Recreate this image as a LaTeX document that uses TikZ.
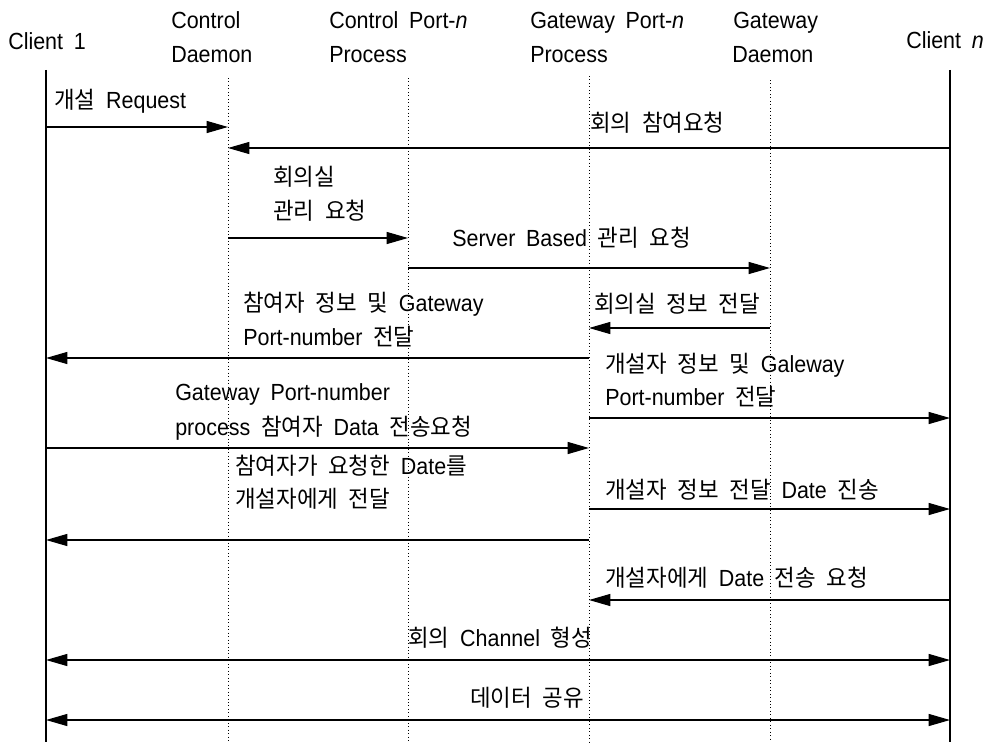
\documentclass[tikz,border=0pt]{standalone}
\usepackage{fontspec}
\setmainfont{Liberation Sans}[FakeStretch=0.92]
\newfontfamily\kr{Noto Sans CJK KR}[FakeStretch=0.96]
\usetikzlibrary{arrows.meta}
\newcommand{\K}[1]{{\kr #1}}
\newcommand{\lblfont}{\fontsize{17.5}{24}\selectfont\spaceskip 8pt\relax}
\begin{document}
\begin{tikzpicture}[x=0.75pt,y=-0.75pt,
  lbl/.style={inner sep=0pt,anchor=base west,font=\lblfont},
  client/.style={line width=1.8pt},
  proc/.style={line width=0.6pt,dotted},
  msg/.style={line width=0.9pt,-{Triangle[length=16pt,width=9pt]}},
  both/.style={line width=0.9pt,{Triangle[length=16pt,width=9pt]}-{Triangle[length=16pt,width=9pt]}}]
\useasboundingbox (0,0) rectangle (998,742);
% headers
\node[lbl] (h1) at (8,50) {Client 1};
\node[lbl] (h2a) at (171,29) {Control};
\node[lbl] (h2b) at (171,63) {Daemon};
\node[lbl] (h3a) at (329,29) {Control Port-\textit{n}};
\node[lbl] (h3b) at (329,63) {Process};
\node[lbl] (h4a) at (530,29) {Gateway Port-\textit{n}};
\node[lbl] (h4b) at (530,63) {Process};
\node[lbl] (h5a) at (733,29) {Gateway};
\node[lbl] (h5b) at (732,63) {Daemon};
\node[lbl] (h6) at (906,49) {Client \textit{n}};
% lifeline tops / bottoms
\coordinate (c1) at (46,70);   \coordinate (c1b) at (46,742);
\coordinate (cd) at (228,78);  \coordinate (cdb) at (228,742);
\coordinate (cp) at (408,78);  \coordinate (cpb) at (408,742);
\coordinate (gp) at (589,76);  \coordinate (gpb) at (589,742);
\coordinate (gd) at (770,80);  \coordinate (gdb) at (770,742);
\coordinate (cn) at (950,70);  \coordinate (cnb) at (950,742);
\draw[client] (c1) -- (c1b);
\draw[client] (cn) -- (cnb);
\draw[proc] (cd) -- (cdb);
\draw[proc] (cp) -- (cpb);
\draw[proc] (gp) -- (gpb);
\draw[proc] (gd) -- (gdb);
% message rows
\coordinate (r1) at (0,127);
\coordinate (r2) at (0,148);
\coordinate (r3) at (0,238);
\coordinate (r4) at (0,268);
\coordinate (r5) at (0,328);
\coordinate (r6) at (0,358);
\coordinate (r7) at (0,418);
\coordinate (r8) at (0,448);
\coordinate (r9) at (0,509);
\coordinate (r10) at (0,540);
\coordinate (r11) at (0,600);
\coordinate (r12) at (0,660);
\coordinate (r13) at (0,720);
\draw[msg] (c1 |- r1) -- (cd |- r1);
\draw[msg] (cn |- r2) -- (cd |- r2);
\draw[msg] (cd |- r3) -- (cp |- r3);
\draw[msg] (cp |- r4) -- (gd |- r4);
\draw[msg] (gd |- r5) -- (gp |- r5);
\draw[msg] (gp |- r6) -- (c1 |- r6);
\draw[msg] (gp |- r7) -- (cn |- r7);
\draw[msg] (c1 |- r8) -- (gp |- r8);
\draw[msg] (gp |- r9) -- (cn |- r9);
\draw[msg] (gp |- r10) -- (c1 |- r10);
\draw[msg] (cn |- r11) -- (gp |- r11);
\draw[both] (c1 |- r12) -- (cn |- r12);
\draw[both] (c1 |- r13) -- (cn |- r13);
% labels
\node[lbl] (t1) at (54,108) {\K{개설} Request};
\node[lbl] (t2) at (590,131) {\K{회의 참여요청}};
\node[lbl] (t3a) at (273,185) {\K{회의실}};
\node[lbl] (t3b) at (273,219) {\K{관리 요청}};
\node[lbl] (t4) at (452,246) {Server Based \K{관리 요청}};
\node[lbl] (t5) at (594,312) {\K{회의실 정보 전달}};
\node[lbl] (t6a) at (243,311) {\K{참여자 정보 및} Gateway};
\node[lbl] (t6b) at (243,345) {Port-number \K{전달}};
\node[lbl] (t7a) at (605,372) {\K{개설자 정보 및} Galeway};
\node[lbl] (t7b) at (605,405) {Port-number \K{전달}};
\node[lbl] (t8a) at (175,400) {Gateway Port-number};
\node[lbl] (t8b) at (175,435) {process \K{참여자} Data \K{전송요청}};
\node[lbl] (t9a) at (235,474) {\K{참여자가 요청한} Date\K{를}};
\node[lbl] (t9b) at (235,507) {\K{개설자에게 전달}};
\node[lbl] (t10) at (605,498) {\K{개설자 정보 전달} Date \K{진송}};
\node[lbl] (t11) at (605,586) {\K{개설자에게} Date \K{전송 요청}};
\node[lbl] (t12) at (408,646) {\K{회의} Channel \K{형성}};
\node[lbl] (t13) at (470,706) {\K{데이터 공유}};
\end{tikzpicture}
\end{document}
